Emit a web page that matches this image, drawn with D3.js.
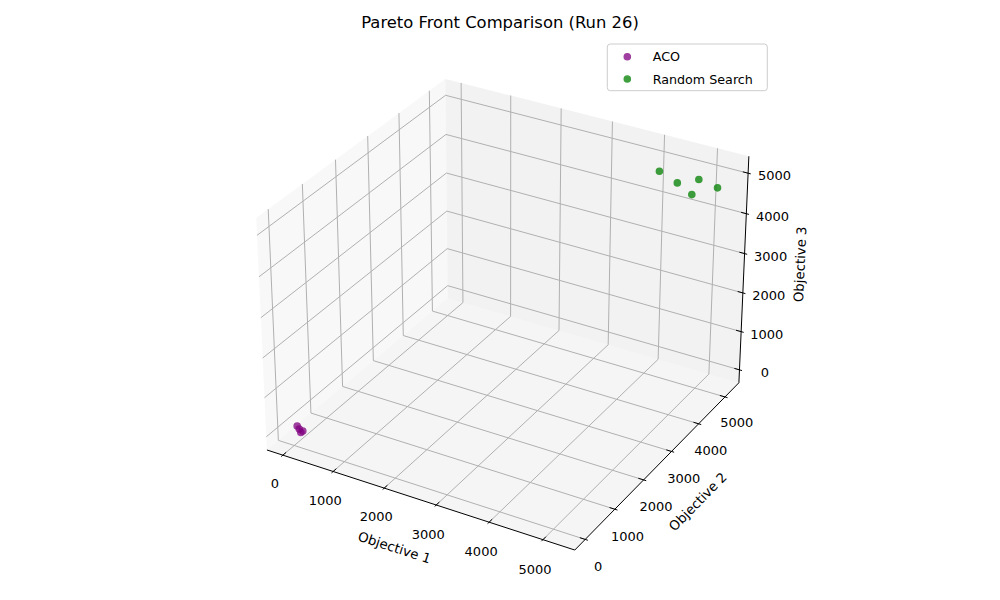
<!DOCTYPE html>
<html>
<head>
<meta charset="utf-8">
<script src="https://cdn.jsdelivr.net/npm/d3@7"></script>
<style>
  body { margin: 0; background: #fff; }
  text { font-family: "DejaVu Sans", sans-serif; fill: #000; }
</style>
</head>
<body>
<svg id="chart" width="1000" height="600"></svg>
<script>
// ACO pareto front (objective 1, 2, 3)
const acoObj1 = [55, 74, 134, 124];
const acoObj2 = [30, 60, 75, 30];
const acoObj3 = [163, 70, 35, 25];
// random search front
const rsObj1 = [4297, 4652, 4939, 4923, 5208];
const rsObj2 = [4800, 4771, 4995, 4782, 5165];
const rsObj3 = [5048, 4900, 4950, 4700, 4734];

const tickVals = [0, 1000, 2000, 3000, 4000, 5000];
const axisNames = ["Objective 1", "Objective 2", "Objective 3"];
const seriesNames = ["ACO", "Random Search"];
const seriesColors = ["purple", "green"];
const title = "Pareto Front Comparison (Run 26)";

const svg = d3.select("#chart");

//autoscale like the 3d axes do: 5% margin then a 1/48 view margin
function limits(vals) {
    const [a, b] = d3.extent(vals);
    const m = (b - a) * 0.05;
    const lo = a - m, hi = b + m;
    const v = (hi - lo) / 48;
    return [lo - v, hi + v];
}

//box aspect 4:4:3 scaled the same way the 3d axes scale it
const boxAspect = [4, 4, 3];
const nrm = Math.hypot(...boxAspect);
const aspect = boxAspect.map(b => b * 1.8294640721620434 / nrm);

const xs = d3.scaleLinear().domain(limits(acoObj1.concat(rsObj1))).range([0, aspect[0]]);
const ys = d3.scaleLinear().domain(limits(acoObj2.concat(rsObj2))).range([0, aspect[1]]);
const zs = d3.scaleLinear().domain(limits(acoObj3.concat(rsObj3))).range([0, aspect[2]]);

const [X0, X1] = xs.domain(), [Y0, Y1] = ys.domain(), [Z0, Z1] = zs.domain();
const Rx = X1 - X0, Ry = Y1 - Y0, Rz = Z1 - Z0;

//camera, elev 30 azim -60
const el = 30 * Math.PI / 180, az = -60 * Math.PI / 180;
const w = [Math.cos(el) * Math.cos(az), Math.cos(el) * Math.sin(az), Math.sin(el)];
const eye = aspect.map((a, i) => a / 2 + 10 * w[i]);
const dot = (a, b) => a[0] * b[0] + a[1] * b[1] + a[2] * b[2];
const cross = (a, b) => [a[1] * b[2] - a[2] * b[1], a[2] * b[0] - a[0] * b[2], a[0] * b[1] - a[1] * b[0]];
let u = cross([0, 0, 1], w);
const ul = Math.hypot(...u);
u = u.map(c => c / ul);
const v = cross(w, u);

//projected plane -> pixels
const sx = d3.scaleLinear().domain([0, 1]).range([507.1, 507.1 + 3087]);
const sy = d3.scaleLinear().domain([0, 1]).range([303.6, 303.6 - 3087]);

function project(x, y, z) {
    const p = [xs(x), ys(y), zs(z)];
    const d = p.map((c, i) => c - eye[i]);
    const zv = -dot(w, d);
    return [sx(dot(u, d) / zv), sy(dot(v, d) / zv)];
}

const line = d3.line();

//panes (left, back, floor)
const panes = [
    { pts: [[X0, Y0, Z0], [X0, Y1, Z0], [X0, Y1, Z1], [X0, Y0, Z1]], fill: "rgba(242,242,242,0.5)" },
    { pts: [[X0, Y1, Z0], [X1, Y1, Z0], [X1, Y1, Z1], [X0, Y1, Z1]], fill: "rgba(230,230,230,0.5)" },
    { pts: [[X0, Y0, Z0], [X1, Y0, Z0], [X1, Y1, Z0], [X0, Y1, Z0]], fill: "rgba(236,236,236,0.5)" }
];
svg.selectAll(".pane").data(panes).enter().append("path")
    .attr("class", "pane")
    .attr("d", d => line(d.pts.map(p => project(...p))) + "Z")
    .attr("fill", d => d.fill)
    .attr("stroke", "none");

//grid lines on the panes
const grid = svg.append("g").attr("stroke", "#b0b0b0").attr("stroke-width", 1).attr("fill", "none");
function gridSeg(a, b) {
    grid.append("path").attr("d", line([project(...a), project(...b)]));
}
tickVals.filter(t => t >= X0 && t <= X1).forEach(t => {
    gridSeg([t, Y0, Z0], [t, Y1, Z0]);
    gridSeg([t, Y1, Z0], [t, Y1, Z1]);
});
tickVals.filter(t => t >= Y0 && t <= Y1).forEach(t => {
    gridSeg([X0, t, Z0], [X1, t, Z0]);
    gridSeg([X0, t, Z0], [X0, t, Z1]);
});
tickVals.filter(t => t >= Z0 && t <= Z1).forEach(t => {
    gridSeg([X0, Y0, t], [X0, Y1, t]);
    gridSeg([X0, Y1, t], [X1, Y1, t]);
});

//axis lines
const axes = svg.append("g").attr("stroke", "#000").attr("stroke-width", 1).attr("fill", "none");
function axSeg(a, b) {
    axes.append("path").attr("d", line([project(...a), project(...b)]));
}
axSeg([X0, Y0, Z0], [X1, Y0, Z0]);
axSeg([X1, Y0, Z0], [X1, Y1, Z0]);
axSeg([X1, Y1, Z0], [X1, Y1, Z1]);

//ticks: out 0.1, in 0.2 of range/12
const dX = Rx / 12, dY = Ry / 12;
const labels = svg.append("g").attr("font-size", "13px").attr("text-anchor", "middle");
function tickLabel(p, txt) {
    const [lx, ly] = project(...p);
    labels.append("text").attr("x", lx).attr("y", ly + 10.2).text(txt);
}
tickVals.filter(t => t >= X0 && t <= X1).forEach(t => {
    axSeg([t, Y0 - 0.1 * dY, Z0], [t, Y0 + 0.2 * dY, Z0]);
    tickLabel([t, Y0 - 0.0436 * Ry, Z0 - 0.0695 * Rz], t);
});
tickVals.filter(t => t >= Y0 && t <= Y1).forEach(t => {
    axSeg([X1 + 0.1 * dX, t, Z0], [X1 - 0.2 * dX, t, Z0]);
    tickLabel([X1 + 0.041 * Rx, t, Z0 - 0.0765 * Rz], t);
});
tickVals.filter(t => t >= Z0 && t <= Z1).forEach(t => {
    axSeg([X1 + 0.1 * dX, Y1, t], [X1 - 0.2 * dX, Y1, t]);
    tickLabel([X1 + 0.0569 * Rx, Y1 + 0.054 * Ry, t], t);
});

//axis labels, rotated along their edge
function axisLabel(a, b, pos, txt) {
    const pa = project(...a), pb = project(...b);
    let ang = Math.atan2(-(pb[1] - pa[1]), pb[0] - pa[0]) * 180 / Math.PI;
    ang = (ang + 180) % 180;
    if (ang > 90) ang -= 180;
    const [lx, ly] = project(...pos);
    svg.append("text")
        .attr("font-size", "13.3px")
        .attr("text-anchor", "middle")
        .attr("dominant-baseline", "central")
        .attr("transform", `translate(${lx},${ly}) rotate(${-ang})`)
        .text(txt);
}
const k = 0.122;
axisLabel([X0, Y0, Z0], [X1, Y0, Z0], [(X0 + X1) / 2, Y0 - k * Ry, Z0 - k * Rz], axisNames[0]);
axisLabel([X1, Y0, Z0], [X1, Y1, Z0], [X1 + k * Rx, (Y0 + Y1) / 2, Z0 - k * Rz], axisNames[1]);
axisLabel([X1, Y1, Z0], [X1, Y1, Z1], [X1 + k * Rx, Y1 + k * Ry, (Z0 + Z1) / 2], axisNames[2]);

//scatter points
const series = [
    { name: seriesNames[0], color: seriesColors[0], x: acoObj1, y: acoObj2, z: acoObj3 },
    { name: seriesNames[1], color: seriesColors[1], x: rsObj1, y: rsObj2, z: rsObj3 }
];
series.forEach(s => {
    const pts = s.x.map((x, i) => project(x, s.y[i], s.z[i]));
    svg.append("g").selectAll("circle").data(pts).enter().append("circle")
        .attr("cx", d => d[0])
        .attr("cy", d => d[1])
        .attr("r", 3.1)
        .attr("fill", s.color)
        .attr("stroke", s.color)
        .attr("stroke-width", 1.4)
        .attr("opacity", 0.75);
});

//legend
const leg = svg.append("g");
leg.append("rect")
    .attr("x", 607.3).attr("y", 44).attr("width", 160).attr("height", 46.7)
    .attr("rx", 3)
    .attr("fill", "#fff").attr("fill-opacity", 0.8)
    .attr("stroke", "#cccccc").attr("stroke-width", 1);
series.forEach((s, i) => {
    const yy = 56.7 + i * 22.3;
    leg.append("circle").attr("cx", 627.3).attr("cy", yy).attr("r", 3.1)
        .attr("fill", s.color).attr("stroke", s.color).attr("stroke-width", 1.4).attr("opacity", 0.75);
    leg.append("text").attr("x", 652.7).attr("y", yy + 4.7).attr("font-size", "12.7px").text(s.name);
});

//title
svg.append("text")
    .attr("x", 500).attr("y", 28)
    .attr("text-anchor", "middle")
    .attr("font-size", "16.4px")
    .text(title);
</script>
</body>
</html>
